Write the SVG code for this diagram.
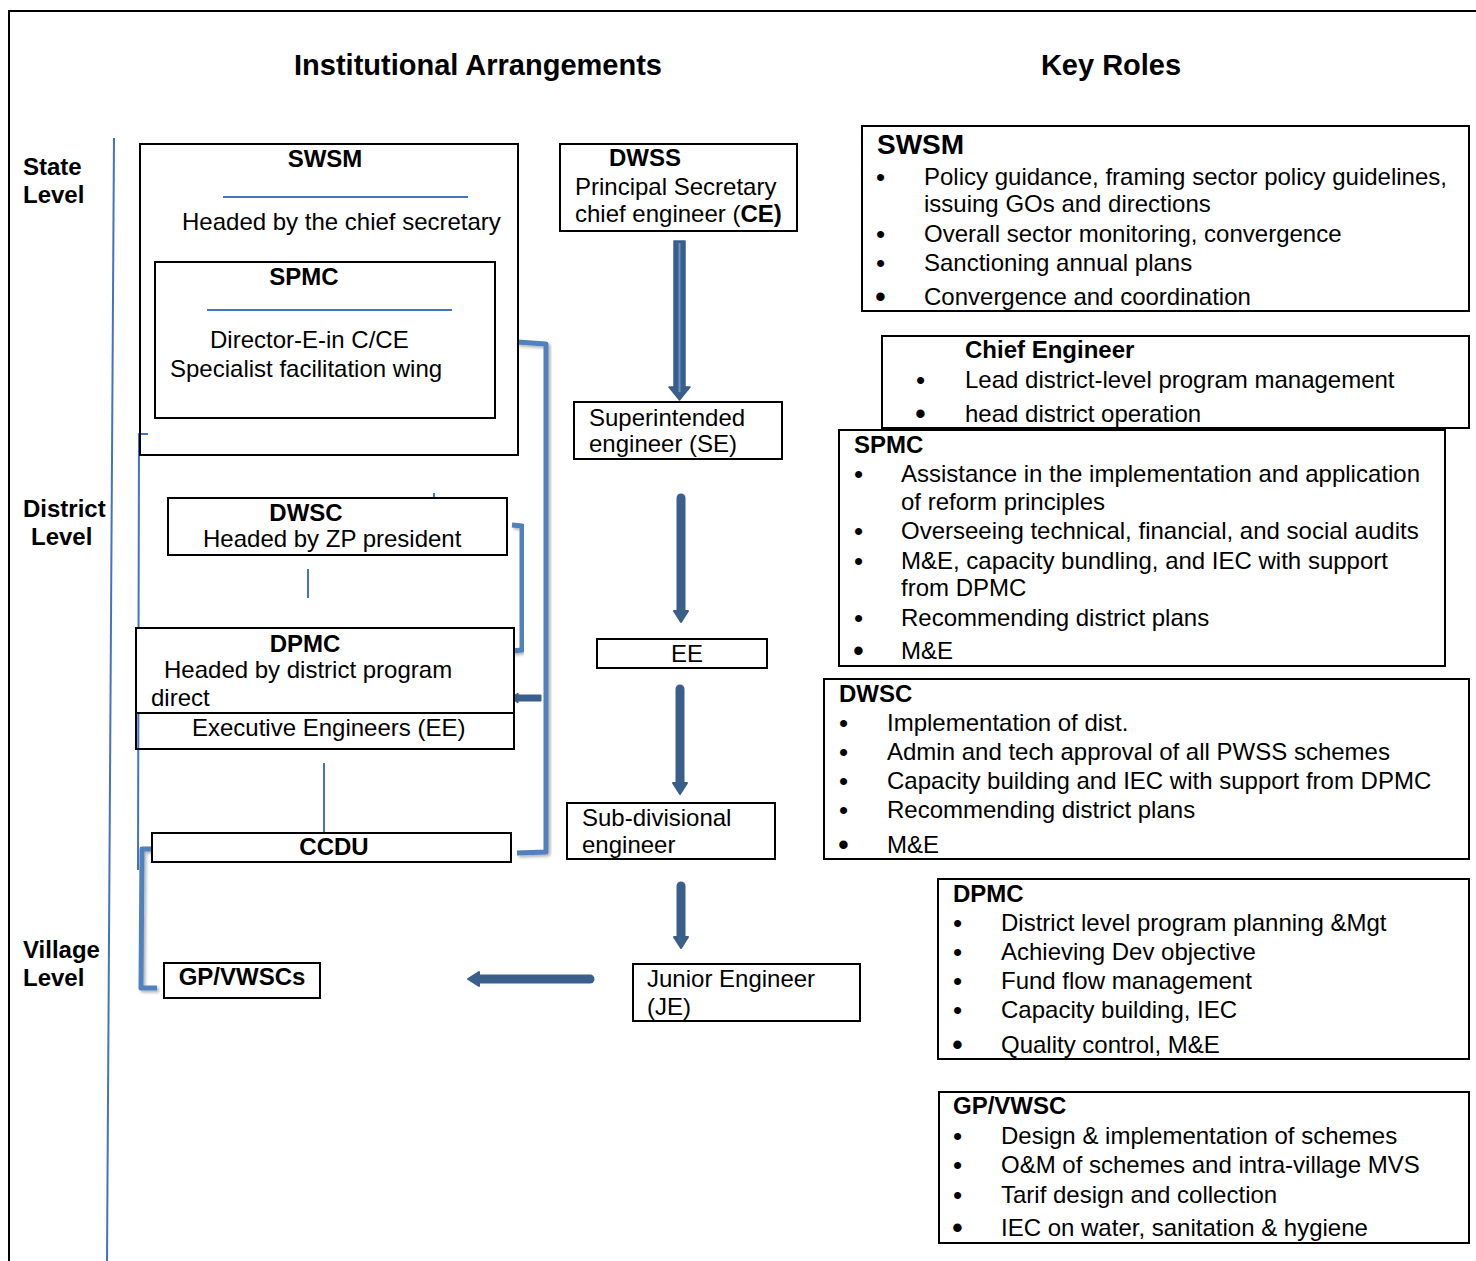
<svg xmlns="http://www.w3.org/2000/svg" width="1476" height="1261" viewBox="0 0 1476 1261">
<defs>
<filter id="sh" x="-20%" y="-5%" width="140%" height="110%">
<feDropShadow dx="2" dy="2" stdDeviation="1.5" flood-color="#000" flood-opacity="0.3"/>
</filter>
</defs>
<style>
text{font-family:"Liberation Sans",Arial,sans-serif;font-size:24px;fill:#000}
.b{font-weight:bold}
.t{font-weight:bold;font-size:29px}
.h28{font-weight:bold;font-size:28px}
.box{fill:#fff;stroke:#000;stroke-width:2}
.bl{stroke:#4472C4;stroke-width:2;fill:none}
.br{stroke:#4F81BD;stroke-width:5;fill:none;stroke-linejoin:round;filter:url(#sh)}
.ar{fill:#3A5F8B;stroke:#3A5F8B;stroke-linejoin:round}
.sh{stroke:#3A5F8B;stroke-width:9;stroke-linecap:round;fill:none}
.bu{font-size:26px}
.bu2{font-size:31px}
</style>
<rect width="1476" height="1261" fill="#fff"/>
<g id="frame">
<path d="M9,1261 L9,11 L1476,11" fill="none" stroke="#000" stroke-width="2"/>
</g>
<g id="titles">
<text class="t" x="478" y="75" text-anchor="middle">Institutional Arrangements</text>
<text class="t" x="1111" y="75" text-anchor="middle">Key Roles</text>
</g>
<g id="levels">
<text class="b" x="23" y="175">State</text>
<text class="b" x="23" y="203">Level</text>
<text class="b" x="23" y="517">District</text>
<text class="b" x="31" y="545">Level</text>
<text class="b" x="23" y="958">Village</text>
<text class="b" x="23" y="986">Level</text>
</g>
<g id="connectors">
<line class="bl" x1="114" y1="138" x2="107" y2="1261"/>
<path class="bl" d="M148,434 L139,434 L138,870"/>
<line class="bl" x1="223" y1="197" x2="468" y2="197"/>
<line class="bl" x1="434" y1="493" x2="434" y2="502"/>
<line class="bl" x1="308" y1="569" x2="308" y2="598"/>
<line class="bl" x1="324" y1="763" x2="324" y2="833"/>
<path class="br" d="M517,342 L546,344 L546,852 L517,853"/>
<path class="br" d="M512,525 L522,526 L522,650 L512,651"/>
<path class="br" d="M153,849 L142,849 L141,988 L157,988"/>
<path class="ar" stroke-width="1" d="M541,695 L518,695 L518,693 L511,698 L518,703 L518,701 L541,701 Z"/>
<path class="ar" stroke-width="1.5" d="M674,241 L685,241 L685,387 L690,387 L679.5,400 L669,387 L674,387 Z"/>
<line x1="679.5" y1="243" x2="679.5" y2="392" stroke="#6A93C8" stroke-width="2"/>
<line class="sh" x1="681" y1="498" x2="681" y2="612"/>
<path class="ar" stroke-width="2" d="M674,611 L688,611 L681,622 Z"/>
<line class="sh" x1="680" y1="689" x2="680" y2="784"/>
<path class="ar" stroke-width="2" d="M673,783 L687,783 L680,794 Z"/>
<line class="sh" x1="681" y1="886" x2="681" y2="938"/>
<path class="ar" stroke-width="2" d="M674,937 L688,937 L681,948 Z"/>
<line class="sh" x1="590" y1="979" x2="478" y2="979"/>
<path class="ar" stroke-width="2" d="M479,972 L479,986 L468,979 Z"/>
</g>
<g id="swsm">
<rect class="box" x="140" y="144" width="378" height="311" style="fill:none"/>
<text class="b" x="325" y="167" text-anchor="middle">SWSM</text>
<text x="182" y="230">Headed by the chief secretary</text>
</g>
<g id="spmc">
<rect class="box" x="155" y="262" width="340" height="156"/>
<line class="bl" x1="207" y1="310" x2="452" y2="310"/>
<text class="b" x="304" y="285" text-anchor="middle">SPMC</text>
<text x="210" y="348">Director-E-in C/CE</text>
<text x="170" y="377">Specialist facilitation wing</text>
</g>
<g id="dwsc">
<rect class="box" x="168" y="498" width="339" height="57"/>
<text class="b" x="306" y="521" text-anchor="middle">DWSC</text>
<text x="203" y="547">Headed by ZP president</text>
</g>
<g id="dpmc">
<rect class="box" x="136" y="628" width="378" height="85"/>
<text class="b" x="305" y="652" text-anchor="middle">DPMC</text>
<text x="164" y="678">Headed by district program</text>
<text x="151" y="706">direct</text>
</g>
<g id="ee-left">
<rect class="box" x="136" y="713" width="378" height="36" style="fill:none"/>
<text x="192" y="736">Executive Engineers (EE)</text>
</g>
<g id="ccdu">
<rect class="box" x="152" y="833" width="359" height="29"/>
<text class="b" x="334" y="855" text-anchor="middle">CCDU</text>
</g>
<g id="gpvwscs">
<rect class="box" x="164" y="963" width="156" height="35"/>
<text class="b" x="242" y="985" text-anchor="middle">GP/VWSCs</text>
</g>
<g id="dwss">
<rect class="box" x="560" y="144" width="237" height="87"/>
<text class="b" x="609" y="166">DWSS</text>
<text x="575" y="195">Principal Secretary</text>
<text x="575" y="222">chief engineer (<tspan class="b">CE)</tspan></text>
</g>
<g id="se">
<rect class="box" x="574" y="402" width="208" height="57"/>
<text x="589" y="426">Superintended</text>
<text x="589" y="452">engineer (SE)</text>
</g>
<g id="ee">
<rect class="box" x="597" y="639" width="170" height="29"/>
<text x="687" y="662" text-anchor="middle">EE</text>
</g>
<g id="sde">
<rect class="box" x="567" y="803" width="208" height="56"/>
<text x="582" y="826">Sub-divisional</text>
<text x="582" y="853">engineer</text>
</g>
<g id="je">
<rect class="box" x="633" y="964" width="227" height="57"/>
<text x="647" y="987">Junior Engineer</text>
<text x="647" y="1015">(JE)</text>
</g>
<g id="kr-swsm">
<rect class="box" x="862" y="126" width="607" height="185"/>
<text class="h28" x="877" y="154">SWSM</text>
<text class="bu" x="876" y="186">•</text>
<text x="924" y="185">Policy guidance, framing sector policy guidelines,</text>
<text x="924" y="212">issuing GOs and directions</text>
<text class="bu" x="876" y="243">•</text>
<text x="924" y="242">Overall sector monitoring, convergence</text>
<text class="bu" x="876" y="272">•</text>
<text x="924" y="271">Sanctioning annual plans</text>
<text class="bu2" x="875" y="307">•</text>
<text x="924" y="305">Convergence and coordination</text>
</g>
<g id="kr-ce">
<rect class="box" x="882" y="336" width="587" height="92"/>
<text class="b" x="965" y="358">Chief Engineer</text>
<text class="bu" x="916" y="389">•</text>
<text x="965" y="388">Lead district-level program management</text>
<text class="bu2" x="915" y="424">•</text>
<text x="965" y="422">head district operation</text>
</g>
<g id="kr-spmc">
<rect class="box" x="839" y="430" width="606" height="236"/>
<text class="b" x="854" y="453">SPMC</text>
<text class="bu" x="854" y="483">•</text>
<text x="901" y="482">Assistance in the implementation and application</text>
<text x="901" y="510">of reform principles</text>
<text class="bu" x="854" y="540">•</text>
<text x="901" y="539">Overseeing technical, financial, and social audits</text>
<text class="bu" x="854" y="570">•</text>
<text x="901" y="569">M&amp;E, capacity bundling, and IEC with support</text>
<text x="901" y="596">from DPMC</text>
<text class="bu" x="854" y="627">•</text>
<text x="901" y="626">Recommending district plans</text>
<text class="bu2" x="853" y="661">•</text>
<text x="901" y="659">M&amp;E</text>
</g>
<g id="kr-dwsc">
<rect class="box" x="824" y="679" width="645" height="180"/>
<text class="b" x="839" y="702">DWSC</text>
<text class="bu" x="839" y="732">•</text>
<text x="887" y="731">Implementation of dist.</text>
<text class="bu" x="839" y="761">•</text>
<text x="887" y="760">Admin and tech approval of all PWSS schemes</text>
<text class="bu" x="839" y="790">•</text>
<text x="887" y="789">Capacity building and IEC with support from DPMC</text>
<text class="bu" x="839" y="819">•</text>
<text x="887" y="818">Recommending district plans</text>
<text class="bu2" x="838" y="855">•</text>
<text x="887" y="853">M&amp;E</text>
</g>
<g id="kr-dpmc">
<rect class="box" x="938" y="879" width="531" height="180"/>
<text class="b" x="953" y="902">DPMC</text>
<text class="bu" x="953" y="932">•</text>
<text x="1001" y="931">District level program planning &amp;Mgt</text>
<text class="bu" x="953" y="961">•</text>
<text x="1001" y="960">Achieving Dev objective</text>
<text class="bu" x="953" y="990">•</text>
<text x="1001" y="989">Fund flow management</text>
<text class="bu" x="953" y="1019">•</text>
<text x="1001" y="1018">Capacity building, IEC</text>
<text class="bu2" x="952" y="1055">•</text>
<text x="1001" y="1053">Quality control, M&amp;E</text>
</g>
<g id="kr-gpvwsc">
<rect class="box" x="939" y="1092" width="530" height="151"/>
<text class="b" x="953" y="1114">GP/VWSC</text>
<text class="bu" x="953" y="1145">•</text>
<text x="1001" y="1144">Design &amp; implementation of schemes</text>
<text class="bu" x="953" y="1174">•</text>
<text x="1001" y="1173">O&amp;M of schemes and intra-village MVS</text>
<text class="bu" x="953" y="1204">•</text>
<text x="1001" y="1203">Tarif design and collection</text>
<text class="bu2" x="952" y="1238">•</text>
<text x="1001" y="1236">IEC on water, sanitation &amp; hygiene</text>
</g>
</svg>
